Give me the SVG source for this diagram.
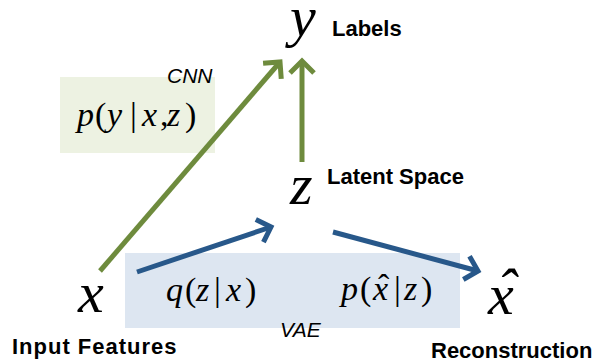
<svg xmlns="http://www.w3.org/2000/svg" width="595" height="360" viewBox="0 0 595 360">
  <style>
    .var { font-family: "Liberation Serif", "Times New Roman", serif; font-style: italic; font-size: 58px; fill: #000; }
    .fm { font-family: "Liberation Serif", "Times New Roman", serif; font-size: 34px; fill: #000; }
    .it { font-style: italic; }
    .lbl { font-family: "Liberation Sans", Arial, sans-serif; font-weight: bold; font-size: 22px; fill: #000; }
    .tag { font-family: "Liberation Sans", Arial, sans-serif; font-style: italic; font-size: 21px; fill: #000; }
    .green { stroke: #6e8b3d; stroke-width: 5; fill: none; }
    .blue { stroke: #28588a; stroke-width: 5; fill: none; }
  </style>
  <defs>
    <marker id="ahG" markerUnits="userSpaceOnUse" markerWidth="30" markerHeight="30" viewBox="-20 -15 30 30" refX="0" refY="0" orient="auto">
      <path d="M-12,-12 L0,0 L-12,12" fill="none" stroke="#6e8b3d" stroke-width="5"/>
    </marker>
    <marker id="ahB" markerUnits="userSpaceOnUse" markerWidth="30" markerHeight="30" viewBox="-20 -15 30 30" refX="0" refY="0" orient="auto">
      <path d="M-12,-12 L0,0 L-12,12" fill="none" stroke="#28588a" stroke-width="5"/>
    </marker>
  </defs>

  <rect width="595" height="360" fill="#ffffff"/>

  <g id="cnn-box">
    <rect x="60" y="77" width="155" height="76" fill="#edf2e2"/>
    <text class="tag" x="167" y="83">CNN</text>
    <text class="fm" y="126"><tspan class="it" x="77">p</tspan><tspan x="95">(</tspan><tspan class="it" x="107">y</tspan><tspan x="130">|</tspan><tspan class="it" x="142">x</tspan><tspan x="160">,</tspan><tspan class="it" x="167">z</tspan><tspan x="185">)</tspan></text>
  </g>

  <g id="vae-box">
    <rect x="125" y="253" width="335" height="75" fill="#dde6f1"/>
    <text class="tag" x="280" y="337">VAE</text>
    <text class="fm" y="301"><tspan class="it" x="166">q</tspan><tspan x="185">(</tspan><tspan class="it" x="196">z</tspan><tspan x="214">|</tspan><tspan class="it" x="226">x</tspan><tspan x="245">)</tspan></text>
    <text class="fm" y="300"><tspan class="it" x="341">p</tspan><tspan x="360">(</tspan><tspan class="it" x="373">x</tspan><tspan x="394">|</tspan><tspan class="it" x="404">z</tspan><tspan x="421">)</tspan></text>
    <text class="fm" x="378" y="298" font-size="30">ˆ</text>
  </g>

  <g id="connectors">
    <line class="green" x1="100" y1="271" x2="280" y2="62" marker-end="url(#ahG)"/>
    <line class="green" x1="302" y1="162" x2="302" y2="61" marker-end="url(#ahG)"/>
    <line class="blue" x1="137" y1="272" x2="271" y2="227" marker-end="url(#ahB)"/>
    <line class="blue" x1="333" y1="232" x2="478" y2="271" marker-end="url(#ahB)"/>
  </g>

  <g id="node-y">
    <text class="var" x="290" y="36">y</text>
    <text class="lbl" x="332" y="36">Labels</text>
  </g>

  <g id="node-z">
    <text class="var" x="290" y="204">z</text>
    <text class="lbl" x="327" y="184">Latent Space</text>
  </g>

  <g id="node-x">
    <text class="var" x="78" y="312">x</text>
    <text class="lbl" x="12" y="354" letter-spacing="1">Input Features</text>
  </g>

  <g id="node-xhat">
    <text class="var" x="488" y="314">x</text>
    <text class="var" x="497" y="308" font-size="50">ˆ</text>
    <text class="lbl" x="431" y="358">Reconstruction</text>
  </g>
</svg>
